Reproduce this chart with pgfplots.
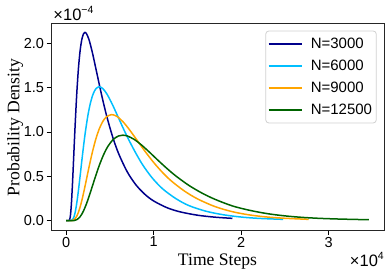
\documentclass[border=0pt]{standalone}
\usepackage{fontspec}
\setmainfont{Liberation Serif}
\newfontfamily\arial{Liberation Sans}
\usepackage{pgfplots}
\pgfplotsset{compat=1.18}
\definecolor{cnavy}{HTML}{00008B}
\definecolor{csky}{HTML}{00BFFF}
\definecolor{corange}{HTML}{FFA500}
\definecolor{cgreen}{HTML}{006400}
\begin{document}
\begin{tikzpicture}
\begin{axis}[
  name=ax,
  at={(0,0)}, anchor=south west,
  scale only axis, width=333bp, height=207bp,
  xmin=-0.173, xmax=3.631, ymin=-0.1061, ymax=2.2281,
  xtick={0,1,2,3}, xticklabels={0,1,2,3},
  ytick={0,0.5,1,1.5,2}, yticklabels={0.0,0.5,1.0,1.5,2.0},
  tick pos=left, tick align=outside, major tick length=4.5bp,
  tick style={black, line width=0.8bp},
  axis line style={black!85, line width=0.8bp},
  tick label style={font=\arial\fontsize{14.5bp}{16bp}\selectfont, inner sep=2.3bp},
  xlabel={Time Steps}, ylabel={Probability Density},
  label style={font=\fontsize{17.6bp}{20bp}\selectfont},
  xlabel style={at={(rel axis cs:0.5,-0.1691)}, anchor=base},
  ylabel style={at={(rel axis cs:-0.0946,0.495)}, anchor=base},
  every axis plot/.append style={line width=1.5bp},
  legend image code/.code={\draw[#1, line width=1.5bp] (0bp,0bp) -- (33bp,0bp);},
  legend cell align=left,
  legend style={at={(rel axis cs:0.978,0.963)}, anchor=north east,
    draw=black!18, line width=0.8bp, rounded corners=3bp,
    fill=white, fill opacity=0.8, text opacity=1,
    font=\arial\fontsize{15bp}{16bp}\selectfont,
    inner xsep=2bp, inner ysep=2bp,
    nodes={inner xsep=2.2bp, inner ysep=5bp},
    /tikz/every odd column/.append style={column sep=6.3bp}},
]
\addplot[cnavy, smooth] coordinates {
(0,0) (0.03,0) (0.04,0.0097) (0.05,0.0668) (0.06,0.1899) (0.07,0.3675) (0.08,0.5779)
(0.09,0.8003) (0.10,1.0192) (0.12,1.4096) (0.14,1.7108) (0.16,1.9195) (0.18,2.0469)
(0.20,2.109) (0.2155,2.122) (0.23,2.1123) (0.26,2.0443) (0.30,1.893) (0.35,1.6664)
(0.40,1.4387) (0.46,1.1907) (0.53,0.9482) (0.60,0.7542) (0.70,0.5462) (0.80,0.3996)
(0.90,0.2956) (1.00,0.2211) (1.15,0.1462) (1.30,0.0989) (1.50,0.0607) (1.70,0.0385)
(1.90,0.0251)};
\addlegendentry{N=3000}
\addplot[csky, smooth] coordinates {
(0,0) (0.05,0) (0.06,0.0011) (0.08,0.019) (0.10,0.0792) (0.12,0.1889) (0.14,0.3371)
(0.16,0.507) (0.18,0.682) (0.20,0.8499) (0.22,1.0026) (0.25,1.1941) (0.28,1.3362)
(0.31,1.4319) (0.34,1.4868) (0.378,1.509) (0.42,1.4876) (0.47,1.4201) (0.53,1.3056)
(0.60,1.1541) (0.68,0.982) (0.77,0.8073) (0.87,0.635) (0.98,0.485) (1.10,0.36)
(1.25,0.25) (1.40,0.17) (1.60,0.105) (1.80,0.065) (2.00,0.04) (2.20,0.025) (2.48,0.014)};
\addlegendentry{N=6000}
\addplot[corange, smooth] coordinates {
(0,0) (0.07,0) (0.08,0.0055) (0.10,0.0196) (0.12,0.048) (0.14,0.0931) (0.16,0.1545)
(0.18,0.2298) (0.20,0.3155) (0.23,0.4549) (0.26,0.5968) (0.30,0.7733) (0.34,0.9225)
(0.38,1.0381) (0.42,1.1197) (0.46,1.1697) (0.52,1.195) (0.58,1.175) (0.65,1.1137)
(0.72,1.0289) (0.80,0.9199) (0.90,0.7825) (1.00,0.6552) (1.10,0.5435) (1.20,0.4481)
(1.35,0.334) (1.50,0.245) (1.70,0.158) (1.90,0.100) (2.10,0.063) (2.30,0.040)
(2.50,0.026) (2.77,0.014)};
\addlegendentry{N=9000}
\addplot[cgreen, smooth] coordinates {
(0,0) (0.09,0) (0.10,0.0033) (0.12,0.0101) (0.14,0.0232) (0.16,0.0443) (0.18,0.0741)
(0.20,0.1123) (0.23,0.1837) (0.26,0.2675) (0.30,0.3894) (0.34,0.5119) (0.38,0.626)
(0.43,0.7478) (0.48,0.8417) (0.54,0.9168) (0.60,0.9548) (0.647,0.963) (0.70,0.954)
(0.78,0.9139) (0.86,0.8532) (0.95,0.7729) (1.05,0.6794) (1.15,0.589) (1.25,0.5058)
(1.40,0.3981) (1.55,0.311) (1.70,0.240) (1.90,0.165) (2.10,0.115) (2.30,0.078)
(2.50,0.053) (2.70,0.036) (2.90,0.025) (3.10,0.018) (3.30,0.013) (3.458,0.010)};
\addlegendentry{N=12500}
\end{axis}
\node[anchor=base west, inner sep=0pt, font=\arial\fontsize{16.5bp}{18bp}\selectfont]
  at (2.3bp,209.5bp) {×10\raisebox{7bp}{\fontsize{10.5bp}{11bp}\selectfont −4}};
\node[anchor=base east, inner sep=0pt, font=\arial\fontsize{16.5bp}{18bp}\selectfont]
  at (333bp,-36.7bp) {×10\raisebox{7bp}{\fontsize{10.5bp}{11bp}\selectfont 4}};
\pgfresetboundingbox
\path[use as bounding box] (-51bp,-46bp) rectangle (339bp,230bp);
\end{tikzpicture}
\end{document}
